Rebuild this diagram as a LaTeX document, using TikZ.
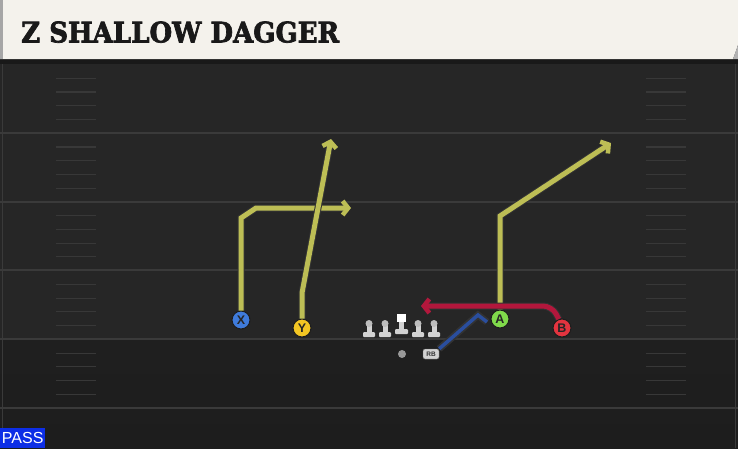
\documentclass[tikz,border=0pt]{standalone}
\usepackage{graphicx}
\usepackage{fontspec}
\setmainfont{DejaVu Serif}
\setsansfont{Liberation Sans}
\newfontfamily\titlefont[FakeBold=2.5]{DejaVu Serif}
\usetikzlibrary{arrows.meta}
\usetikzlibrary{positioning}

\definecolor{turf}{HTML}{262626}
\definecolor{turfdark}{HTML}{1D1D1D}
\definecolor{yardline}{HTML}{3A3A3A}
\definecolor{hashline}{HTML}{383838}
\definecolor{cream}{HTML}{F4F2EC}
\definecolor{routeyellow}{HTML}{BDBE55}
\definecolor{routered}{HTML}{B3173C}
\definecolor{routeblue}{HTML}{2A4E9E}
\definecolor{xblue}{HTML}{3F7BDB}
\definecolor{yyellow}{HTML}{F3C623}
\definecolor{agreen}{HTML}{80DA4B}
\definecolor{bred}{HTML}{E3343F}
\definecolor{olgrey}{HTML}{D2D2D2}
\definecolor{passblue}{HTML}{0D2EE6}

\newcommand{\lineman}[2]% x, bottom of base
{\fill[olgrey, rounded corners=1pt] (#1-6,#2) rectangle (#1+6,#2-5);
 \fill[olgrey] (#1-2.5,#2-5) rectangle (#1+2.5,#2-12);
 \fill[olgrey!75!gray] (#1,#2-13.5) circle (3.5);
}

\tikzset{
  player/.style={circle, draw=turfdark, line width=1pt, fill=#1, minimum size=18pt,
    inner sep=0pt, font=\sffamily\bfseries\fontsize{12.5}{12.5}\selectfont, text=black!85},
  route/.style={line width=5pt, draw=#1, line join=miter,
    preaction={draw=black!80, line width=7pt}},
  routetip/.style={-{Straight Barb[length=5.5pt,width=14pt,line width=4.5pt]}}
}

\begin{document}
\begin{tikzpicture}[x=1pt,y=-1pt]
	\useasboundingbox (0,0) rectangle (738,448);
	\shade[top color=turf, bottom color=turfdark] (0,0) rectangle (738,448);
	\fill[turf] (0,0) rectangle (738,340);
	% field
	\draw[yardline, line width=1pt] (2,62) -- (2,448);
	\draw[yardline, line width=1pt] (735,62) -- (735,448);
	\foreach \yl in {133,202,270,339,408}
		\draw[yardline, line width=2pt] (0,\yl) -- (738,\yl);
	\foreach \yl in {64.6,133.3,202,270.7,339.4}
		\foreach \k in {1,2,3,4}{
			\draw[hashline, line width=1.2pt] (56,\yl+13.7*\k) -- (96,\yl+13.7*\k);
			\draw[hashline, line width=1.2pt] (646,\yl+13.7*\k) -- (686,\yl+13.7*\k);
		}
	% header
	\fill[black!90] (0,59) rectangle (738,64);
	\fill[cream] (0,0) -- (738,0) -- (738,45) -- (733,59) -- (0,59) -- cycle;
	\fill[black!35] (0,0) rectangle (3,59);
	\fill[black!30] (738,45) -- (738,59) -- (733,59) -- cycle;
	\node[anchor=south west, inner sep=0pt, text=black!90] (title) at (21,43)
		{\resizebox{318pt}{21pt}{\titlefont\bfseries Z SHALLOW DAGGER}};
	% line
	\lineman{369}{337}
	\lineman{385}{337}
	\lineman{418}{337}
	\lineman{434}{337}
	\fill[olgrey, rounded corners=1pt] (395,334) rectangle (408,329);
	\fill[olgrey] (399,329) rectangle (404,322);
	\fill[white] (397,314) rectangle (406,322);
	% backs and receivers
	\node[circle, fill=gray!80, minimum size=8pt, inner sep=0pt] (qb) at (402,354){};
	\node[rounded corners=2pt, fill=olgrey, draw=black!60, minimum width=16pt, minimum height=10pt,
		inner sep=0pt, font=\sffamily\bfseries\fontsize{6.5}{6.5}\selectfont, text=black!80] (rb) at (431,354){RB};
	\node[player=xblue] (x) at (241,320){X};
	\node[player=yyellow] (y) at (302,328){Y};
	\node[player=agreen] (a) at (500,319){A};
	\node[player=bred] (b) at (562,328){B};
	% routes
	\coordinate (xEnd) at (351,208);
	\coordinate (yEnd) at (331,139);
	\coordinate (aEnd) at (611,143);
	\coordinate (bEnd) at (421,306);
	\coordinate (rbEnd) at (487,322);
	\draw[route=routeyellow, routetip] (x.north) -- (241,218) -- (256,208) -- (xEnd);
	\draw[route=routeyellow, routetip] (y.north) -- (302,293) -- (yEnd);
	\draw[route=routeyellow, routetip] (a.north) -- (500,216) -- (aEnd);
	\draw[route=routered, routetip, rounded corners=9pt] (b.110) -- (552,306) -- (bEnd);
	\draw[route=routeblue, line width=3.5pt, preaction={draw=black!80, line width=5.5pt}]
		(rb.north east) -- (478,315) -- (rbEnd);
	% formation
	\node[anchor=south west, fill=passblue, minimum width=45pt, minimum height=20pt, inner sep=0pt,
		text=white, font=\sffamily\fontsize{16}{16}\selectfont] (pass) at (0,448){PASS};
\end{tikzpicture}
\end{document}
